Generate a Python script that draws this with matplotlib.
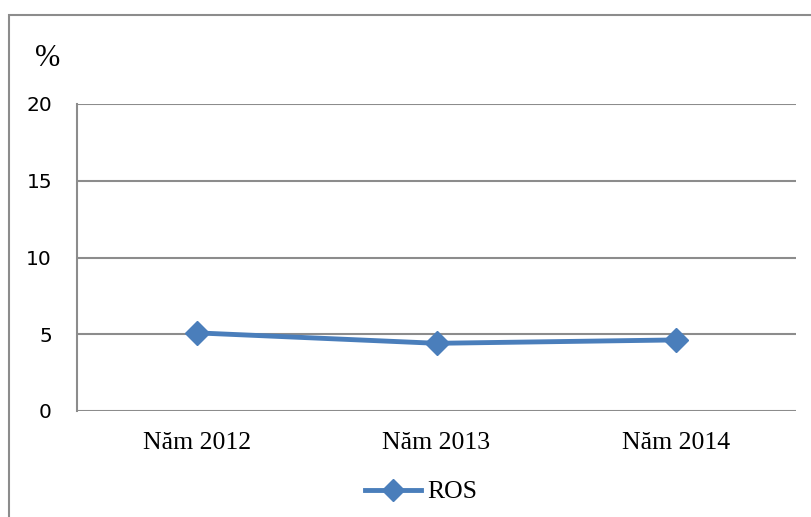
import matplotlib.pyplot as plt
from matplotlib.patches import Rectangle
from matplotlib.lines import Line2D

years = ["Năm 2012", "Năm 2013", "Năm 2014"]
ros = [5.09, 4.41, 4.63]
y_ticks = [0, 5, 10, 15, 20]

line_color = "#4a7ebb"
grid_color = "#8c8c8c"

fig = plt.figure(figsize=(8.11, 5.17), dpi=100)

# outer frame around the whole chart
fig.patches.append(Rectangle((9 / 811, -0.05), 1.0, 1 - 15 / 517 + 0.05,
                             transform=fig.transFigure, fill=False,
                             edgecolor=grid_color, linewidth=1.5))

ax = fig.add_axes([77 / 811, 106 / 517, 719 / 811, 307 / 517])
x = range(len(years))
ax.plot(x, ros, color=line_color, linewidth=3.5, marker="D",
        markersize=12, zorder=3)

ax.set_xlim(-0.5, len(years) - 0.5)
ax.set_ylim(0, 20)
ax.set_yticks(y_ticks)
ax.set_yticklabels([str(t) for t in y_ticks], fontsize=14.5,
                   family="DejaVu Sans")
ax.set_xticks(list(x))
ax.set_xticklabels(years, fontsize=18.5, family="Liberation Serif")
ax.tick_params(axis="y", length=0, pad=18)
ax.tick_params(axis="x", length=0, pad=15)

for t in y_ticks:
    ax.axhline(t, color=grid_color, linewidth=1.5, zorder=1)
for side in ["top", "right", "bottom"]:
    ax.spines[side].set_visible(False)
ax.spines["left"].set_color(grid_color)
ax.spines["left"].set_linewidth(1.5)

fig.text(48 / 811, 1 - 58 / 517, "%", fontsize=22, family="Liberation Serif",
         ha="center", va="center")

handle = Line2D([], [], color=line_color, linewidth=3.5, marker="D",
                markersize=11)
fig.legend([handle], ["ROS"], loc="center", bbox_to_anchor=(421 / 811, 1 - 492 / 517),
           frameon=False, prop={"family": "Liberation Serif", "size": 18.5},
           handlelength=2.2, handletextpad=0.25)

fig.savefig("out.png", dpi=100)
